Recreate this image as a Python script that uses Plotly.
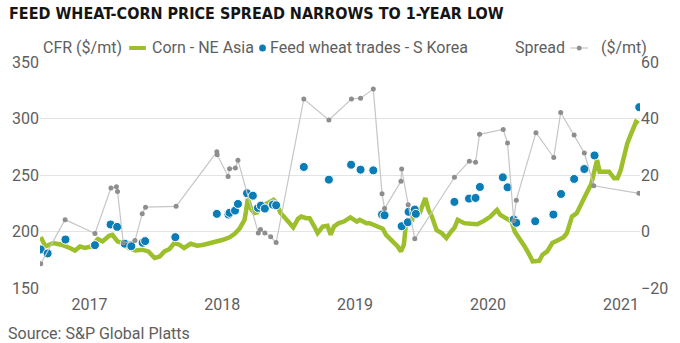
import plotly.graph_objects as go

# ---------------- data ----------------
corn_dates = [
    "2016-08-20", "2016-09-02", "2016-09-24", "2016-10-16", "2016-11-08", "2016-11-22", "2016-12-06", "2016-12-19",
    "2017-01-06", "2017-01-24", "2017-02-06", "2017-02-24", "2017-03-05", "2017-03-19", "2017-04-01", "2017-04-19",
    "2017-05-07", "2017-05-25", "2017-06-12", "2017-06-29", "2017-07-13", "2017-07-26", "2017-08-09", "2017-08-22",
    "2017-09-05", "2017-09-18", "2017-10-06", "2017-10-24", "2017-11-11", "2017-11-29", "2017-12-17",
    "2018-01-03", "2018-01-21", "2018-02-04", "2018-02-17", "2018-03-03", "2018-03-07", "2018-03-12", "2018-03-16",
    "2018-03-21", "2018-03-30", "2018-04-07", "2018-04-17", "2018-04-30", "2018-05-09", "2018-05-22", "2018-05-31",
    "2018-06-09", "2018-06-18", "2018-07-02", "2018-07-15", "2018-07-28", "2018-08-06", "2018-08-20", "2018-08-29",
    "2018-09-11", "2018-09-20", "2018-10-04", "2018-10-17", "2018-10-26", "2018-11-04", "2018-11-17", "2018-12-01",
    "2018-12-19", "2019-01-06", "2019-01-14", "2019-02-01", "2019-02-10", "2019-02-28", "2019-03-18", "2019-03-27",
    "2019-04-10", "2019-04-28", "2019-05-07", "2019-05-15", "2019-05-20", "2019-05-28", "2019-06-07", "2019-06-14",
    "2019-06-20", "2019-06-29", "2019-07-13", "2019-07-22", "2019-07-31", "2019-08-13", "2019-08-27", "2019-09-09",
    "2019-09-22", "2019-10-01", "2019-10-10", "2019-10-28", "2019-11-15", "2019-12-03", "2019-12-21",
    "2020-01-08", "2020-01-21", "2020-01-26", "2020-02-04", "2020-02-21", "2020-03-06", "2020-03-15", "2020-03-28",
    "2020-04-11", "2020-04-24", "2020-05-03", "2020-05-21", "2020-05-30", "2020-06-12", "2020-06-26", "2020-07-14",
    "2020-07-27", "2020-08-05", "2020-08-19", "2020-09-01", "2020-09-15", "2020-09-28", "2020-10-11", "2020-10-20",
    "2020-10-27", "2020-11-03", "2020-11-16", "2020-11-29", "2020-12-13", "2020-12-22", "2020-12-31",
    "2021-01-09", "2021-01-18", "2021-01-27", "2021-02-05", "2021-02-11", "2021-02-18",
]
corn_values = [
    195.1, 186.8, 189.8, 188.3, 185.4, 183.2, 186.8, 185.4,
    186.8, 193.3, 191.2, 196.2, 197.1, 191.2, 189.8, 185.4,
    183.2, 183.9, 182.4, 176.5, 177.9, 182.4, 184.5, 189.8,
    188.3, 185.4, 189.1, 187.4, 188.3, 189.8, 190.5,
    192.7, 194.9, 198.0, 202.4, 210.3, 217.6, 228.9, 225.3,
    220.0, 216.2, 216.9, 222.1, 223.6, 225.6, 228.0, 225.1,
    216.9, 213.2, 208.8, 203.7, 211.2, 213.2, 211.8, 211.8,
    204.4, 198.6, 204.4, 205.0, 197.1, 204.4, 207.4, 208.8,
    212.5, 208.8, 210.3, 207.4, 207.4, 204.4, 202.4, 197.1,
    192.7, 186.8, 182.4, 188.3, 204.4, 209.4, 210.3, 221.8,
    219.1, 217.6, 229.5, 219.1, 213.2, 201.1, 198.6, 194.2,
    200.0, 203.3, 210.3, 207.4, 206.8, 206.4, 209.4,
    213.2, 217.6, 219.1, 214.7, 211.8, 208.8, 199.7, 194.2,
    186.8, 179.4, 173.5, 174.1, 179.4, 182.4, 189.8, 192.7,
    194.9, 198.6, 213.2, 216.2, 224.4, 233.9, 242.1, 254.4,
    263.3, 252.9, 252.9, 252.9, 247.1, 247.1, 254.4,
    266.2, 278.0, 285.3, 291.2, 297.1, 295.6,
]

wheat_dates = [
    "2016-08-20", "2016-09-08", "2016-10-27", "2017-01-16", "2017-02-28", "2017-03-18", "2017-04-08", "2017-04-26",
    "2017-05-27", "2017-06-03", "2017-08-25", "2017-12-17", "2018-01-18", "2018-01-21", "2018-02-05", "2018-02-13",
    "2018-03-10", "2018-03-26", "2018-04-09", "2018-04-17", "2018-04-28", "2018-05-20", "2018-05-29", "2018-08-13",
    "2018-10-21", "2018-12-21", "2019-01-16", "2019-02-20", "2019-03-16", "2019-03-23", "2019-05-09", "2019-05-26",
    "2019-05-28", "2019-06-14", "2019-06-17", "2019-10-01", "2019-11-10", "2019-11-28", "2019-12-10", "2020-02-11",
    "2020-02-24", "2020-03-12", "2020-03-19", "2020-05-10", "2020-06-29", "2020-07-20", "2020-08-25", "2020-09-22",
    "2020-10-20", "2021-02-20",
]
wheat_values = [
    184.1, 180.6, 192.9, 187.9, 206.2, 204.1, 189.2, 187.0,
    190.0, 191.5, 195.0, 215.6, 215.0, 216.5, 218.5, 224.4,
    233.8, 231.7, 220.9, 222.9, 220.3, 223.8, 223.2, 257.1,
    245.9, 259.1, 254.7, 254.1, 215.0, 214.4, 204.7, 208.2,
    217.4, 219.4, 215.6, 226.2, 229.1, 229.7, 239.4, 247.9,
    239.1, 210.6, 207.7, 209.1, 215.0, 233.2, 246.5, 255.3,
    267.3, 310.0,
]

spread_dates = [
    "2016-08-20", "2016-10-26", "2017-01-16", "2017-03-01", "2017-03-16", "2017-03-19", "2017-04-04", "2017-05-06",
    "2017-05-26", "2017-06-04", "2017-08-27", "2017-12-17", "2017-12-18", "2018-01-17", "2018-01-21", "2018-02-06",
    "2018-02-13", "2018-04-10", "2018-04-16", "2018-04-28", "2018-05-14", "2018-05-29", "2018-08-13", "2018-10-21",
    "2018-12-22", "2019-01-16", "2019-02-20", "2019-03-16", "2019-03-23", "2019-05-07", "2019-05-09", "2019-05-27",
    "2019-06-14", "2019-10-01", "2019-11-11", "2019-11-28", "2019-12-09", "2020-02-12", "2020-02-24", "2020-03-12",
    "2020-03-19", "2020-05-12", "2020-06-30", "2020-07-19", "2020-08-25", "2020-09-22", "2020-10-18", "2021-02-19",
]
spread_values = [
    -11.4, 4.2, -0.7, 15.4, 15.8, 14.2, -4.0, -3.2,
    6.3, 8.6, 8.9, 28.2, 27.2, 19.5, 22.2, 22.5,
    25.2, -0.5, 0.7, -0.5, -1.9, -3.9, 46.9, 39.5,
    46.9, 47.2, 50.4, 13.4, 8.1, 17.8, 22.1, 9.5,
    -2.6, 19.2, 24.9, 24.5, 34.4, 36.1, 31.3, 3.9,
    11.1, 35.0, 26.2, 42.1, 34.2, 27.8, 16.2, 13.5,
]

year_ticks = ["2017-01-01", "2018-01-01", "2019-01-01", "2020-01-01", "2021-01-01"]
year_labels = ["2017", "2018", "2019", "2020", "2021"]
left_ticks = [150, 200, 250, 300, 350]
right_ticks = [-20, 0, 20, 40, 60]

title_text = "FEED WHEAT-CORN PRICE SPREAD NARROWS TO 1-YEAR LOW"
source_text = "Source: S&P Global Platts"

# ---------------- styling ----------------
W, H = 680, 343
ML, MR, MT, MB = 36, 32, 62, 55
PW, PH = W - ML - MR, H - MT - MB

GREEN = "#9cbf2b"
BLUE = "#0b7db6"
GRAY_LINE = "#c6c6c6"
GRAY_DOT = "#8e8e8e"
TXT = "#5e5e5e"
FONT = "Roboto, Inter, sans-serif"


def px(x):
    return (x - ML) / PW


def py(y):
    return (H - MB - y) / PH


fig = go.Figure()

fig.add_trace(go.Scatter(
    x=spread_dates, y=spread_values, yaxis="y2", mode="lines+markers",
    line=dict(color=GRAY_LINE, width=1.2),
    marker=dict(color=GRAY_DOT, size=5),
    showlegend=False, hoverinfo="skip",
))
fig.add_trace(go.Scatter(
    x=corn_dates, y=corn_values, mode="lines",
    line=dict(color=GREEN, width=4.5),
    showlegend=False, hoverinfo="skip",
))
fig.add_trace(go.Scatter(
    x=wheat_dates, y=wheat_values, mode="markers",
    marker=dict(color=BLUE, size=9, line=dict(color="white", width=1)),
    showlegend=False, hoverinfo="skip",
))

legend_y = 48
annotations = [
    dict(text=title_text, xref="paper", yref="paper", x=px(2), y=py(13),
         xanchor="left", yanchor="middle", showarrow=False,
         font=dict(family="Liberation Sans Narrow, DejaVu Sans Condensed, Arial Narrow, sans-serif",
                   size=16, color="#151515", weight="bold")),
    dict(text="CFR ($/mt)", xref="paper", yref="paper", x=px(37), y=py(legend_y),
         xanchor="left", yanchor="middle", showarrow=False, font=dict(family=FONT, size=16, color=TXT)),
    dict(text="Corn - NE Asia", xref="paper", yref="paper", x=px(148), y=py(legend_y),
         xanchor="left", yanchor="middle", showarrow=False, font=dict(family=FONT, size=16, color=TXT)),
    dict(text="Feed wheat trades - S Korea", xref="paper", yref="paper", x=px(269), y=py(legend_y),
         xanchor="left", yanchor="middle", showarrow=False, font=dict(family=FONT, size=16, color=TXT)),
    dict(text="Spread", xref="paper", yref="paper", x=px(574), y=py(legend_y),
         xanchor="right", yanchor="middle", showarrow=False, font=dict(family=FONT, size=16, color=TXT)),
    dict(text="($/mt)", xref="paper", yref="paper", x=px(606), y=py(legend_y),
         xanchor="left", yanchor="middle", showarrow=False, font=dict(family=FONT, size=16, color=TXT)),
    dict(text=source_text, xref="paper", yref="paper", x=px(1), y=py(333),
         xanchor="left", yanchor="middle", showarrow=False, font=dict(family=FONT, size=16, color=TXT)),
]

shapes = [
    dict(type="line", xref="paper", yref="paper", x0=px(127), x1=px(144), y0=py(legend_y), y1=py(legend_y),
         line=dict(color=GREEN, width=4)),
    dict(type="circle", xref="paper", yref="paper", x0=px(259.5), x1=px(266.5),
         y0=py(legend_y + 3.5), y1=py(legend_y - 3.5), line=dict(width=0), fillcolor=BLUE),
    dict(type="line", xref="paper", yref="paper", x0=px(577), x1=px(595), y0=py(legend_y), y1=py(legend_y),
         line=dict(color=GRAY_LINE, width=1.2)),
    dict(type="circle", xref="paper", yref="paper", x0=px(583.5), x1=px(588.5),
         y0=py(legend_y + 2.5), y1=py(legend_y - 2.5), line=dict(width=0), fillcolor=GRAY_DOT),
]

fig.update_layout(
    width=W, height=H,
    margin=dict(l=ML, r=MR, t=MT, b=MB, pad=0),
    paper_bgcolor="white", plot_bgcolor="white",
    showlegend=False,
    font=dict(family=FONT, size=16, color=TXT),
    xaxis=dict(type="date", range=["2016-08-18", "2021-02-22"],
               tickvals=year_ticks, ticktext=year_labels,
               showgrid=False, zeroline=False, showline=False, ticks="",
               ticklabelstandoff=5,
               tickfont=dict(family=FONT, size=16, color=TXT)),
    yaxis=dict(range=[150, 350], tickvals=left_ticks, showgrid=True, gridcolor="#e4e4e4", gridwidth=1,
               zeroline=False, showline=False, ticks="",
               tickfont=dict(family=FONT, size=16, color=TXT)),
    yaxis2=dict(range=[-20, 60], tickvals=right_ticks, overlaying="y", side="right",
                showgrid=False, zeroline=False, showline=False, ticks="",
                tickfont=dict(family=FONT, size=16, color=TXT)),
    annotations=annotations,
    shapes=shapes,
)

fig.write_html("out.html")
